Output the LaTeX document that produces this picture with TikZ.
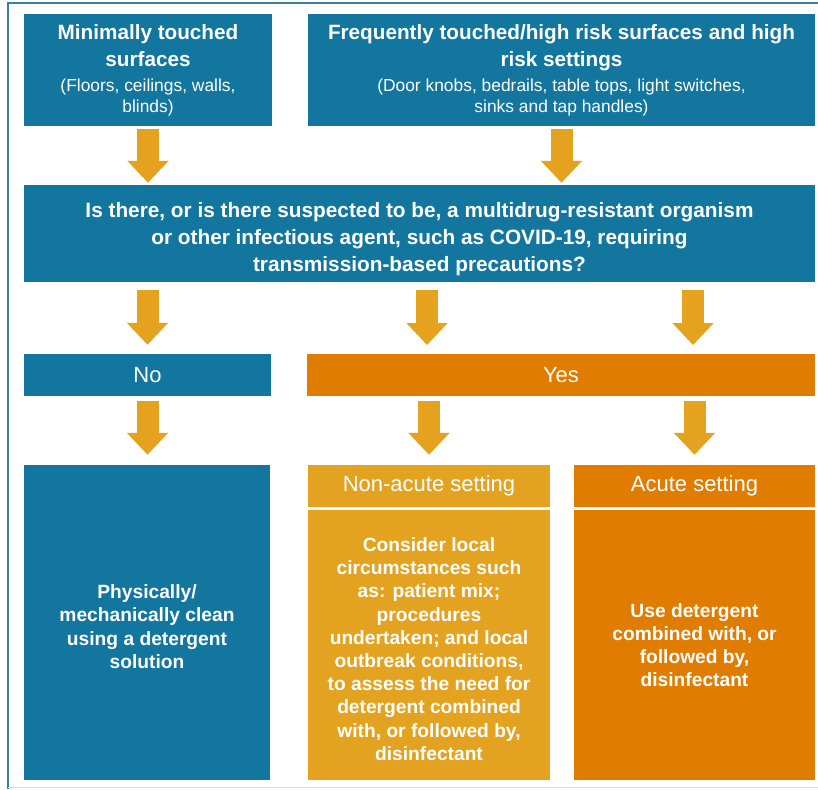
\documentclass[tikz,border=0pt]{standalone}
\usepackage{fontspec}
\setmainfont{Liberation Sans}
\usetikzlibrary{arrows.meta}
\definecolor{tealblue}{HTML}{13769E}
\definecolor{deeporange}{HTML}{E07C00}
\definecolor{goldbox}{HTML}{E3A220}
\definecolor{goldarrow}{HTML}{E5A21F}
\definecolor{framecol}{HTML}{3A7F9C}
\tikzset{
  box/.style={rectangle, inner sep=0pt, text=white, align=center},
  bluebox/.style={box, fill=tealblue},
  orangebox/.style={box, fill=deeporange},
  goldboxst/.style={box, fill=goldbox},
  titlefont/.style={font=\fontsize{20.7}{27.6}\selectfont\bfseries},
  bodyfont/.style={font=\fontsize{19.2}{23.2}\selectfont\bfseries},
  headfont/.style={font=\fontsize{22}{25}\selectfont},
  blockarrow/.style={draw=goldarrow, line width=22pt, -{Triangle[width=40pt,length=22pt]}},
}
\newcommand{\subtxt}[1]{{\fontsize{17.4}{21}\selectfont\mdseries #1}}
\begin{document}
\begin{tikzpicture}[x=1pt,y=-1pt]
\useasboundingbox (0,0) rectangle (818,789);
\fill[white] (0,0) rectangle (818,789);
% frame
\draw[framecol, line width=2pt] (8,789) -- (8,3) -- (818,3);
\draw[black!15, line width=1pt] (8,787.5) -- (818,787.5);

% top boxes
\node[bluebox, minimum width=248pt, minimum height=112pt, titlefont] (b1) at (148,70)
  {Minimally touched\\surfaces\\[-2.5pt]\subtxt{(Floors, ceilings, walls,}\\[-7pt]\subtxt{blinds)}};
\node[bluebox, minimum width=507pt, minimum height=112pt, titlefont] (b2) at (561.5,70)
  {Frequently touched/high risk surfaces and high\\risk settings\\[-2.5pt]\subtxt{(Door knobs, bedrails, table tops, light switches,}\\[-7pt]\subtxt{sinks and tap handles)}};

% question
\node[bluebox, minimum width=791pt, minimum height=97pt, font=\fontsize{20.8}{27}\selectfont\bfseries] (q) at (419.5,233.5)
  {\rule{0pt}{26pt}Is there, or is there suspected to be, a multidrug-resistant organism\\or other infectious agent, such as COVID-19, requiring\\transmission-based precautions?};

% no / yes
\node[bluebox, minimum width=247pt, minimum height=42pt, headfont] (no) at (147.5,375) {No};
\node[orangebox, minimum width=508pt, minimum height=42pt, headfont] (yes) at (561,375) {Yes};

% bottom boxes
\node[bluebox, minimum width=246pt, minimum height=315pt, bodyfont] (phys) at (147,622.5)
  {\rule{0pt}{22pt}Physically/\\mechanically clean\\using a detergent\\solution};
\node[goldboxst, minimum width=242pt, minimum height=42pt, headfont] (nah) at (429,486) {Non-acute setting};
\node[goldboxst, minimum width=242pt, minimum height=270pt, bodyfont] (nab) at (429,645)
  {\rule{0pt}{22pt}Consider local\\circumstances such\\as: patient mix;\\procedures\\undertaken; and local\\outbreak conditions,\\to assess the need for\\detergent combined\\with, or followed by,\\disinfectant};
\node[orangebox, minimum width=241pt, minimum height=42pt, headfont] (ah) at (694.5,486) {Acute setting};
\node[orangebox, minimum width=241pt, minimum height=270pt, bodyfont] (ab) at (694.5,645)
  {Use detergent\\combined with, or\\followed by,\\disinfectant};

% arrow anchor coordinates
\coordinate (ya) at (427,354);
\coordinate (yb) at (693,354);

% arrows
\draw[blockarrow, shorten <=3pt, shorten >=2pt] (b1.south) -- (b1.south |- q.north);
\draw[blockarrow, shorten <=3pt, shorten >=2pt] (b2.south) -- (b2.south |- q.north);
\draw[blockarrow, shorten <=8pt, shorten >=9pt] (no.north |- q.south) -- (no.north);
\draw[blockarrow, shorten <=8pt, shorten >=9pt] (ya |- q.south) -- (ya);
\draw[blockarrow, shorten <=8pt, shorten >=9pt] (yb |- q.south) -- (yb);
\draw[blockarrow, shorten <=5pt, shorten >=10pt] (no.south) -- (no.south |- phys.north);
\draw[blockarrow, shorten <=5pt, shorten >=10pt] (nah.north |- yes.south) -- (nah.north);
\draw[blockarrow, shorten <=5pt, shorten >=10pt] (ah.north |- yes.south) -- (ah.north);
\end{tikzpicture}
\end{document}
